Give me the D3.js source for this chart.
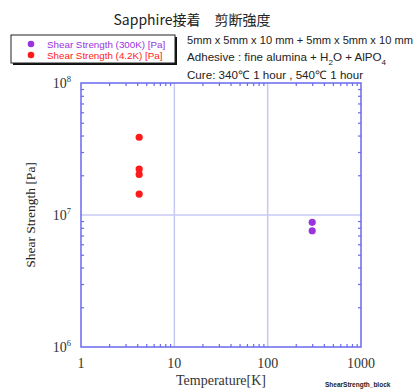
<!DOCTYPE html>
<html>
<head>
<meta charset="utf-8">
<script src="https://cdn.jsdelivr.net/npm/d3@7"></script>
<style>
  body { margin: 0; background: #fff; }
  svg { display: block; }
</style>
</head>
<body>
<svg id="chart"></svg>
<script>
// data
var temp300 = [300, 300];
var shear300 = [8.8e6, 7.6e6];
var temp4 = [4.2, 4.2, 4.2, 4.2];
var shear4 = [3.88e7, 2.23e7, 2.03e7, 1.44e7];
var xTickLabels = ["1", "10", "100", "1000"];
var yTickValues = [1e6, 1e7, 1e8];
var seriesNames = ["Shear Strength (300K) [Pa]", "Shear Strength (4.2K) [Pa]"];
var seriesColors = ["#9933dd", "#ff1a1a"];

var W = 417, H = 390;
var margin = { top: 83, right: 56, bottom: 43, left: 81 };
var width = W - margin.left - margin.right;
var height = H - margin.top - margin.bottom;

var svg = d3.select("#chart").attr("width", W).attr("height", H);

var axisColor = "#6a6aee";
var gridColor = "#c8c8f4";
var serif = "'Liberation Serif', 'DejaVu Serif', serif";
var sans = "'Liberation Sans', Arial, sans-serif";

var x = d3.scaleLog().domain([1, 1000]).range([0, width]);
var y = d3.scaleLog().domain([1e6, 1e8]).range([height, 0]);

var g = svg.append("g").attr("transform", "translate(" + margin.left + "," + margin.top + ")");

// grid at decades
g.selectAll(".vgrid").data([10, 100]).enter().append("line")
  .attr("x1", d => x(d)).attr("x2", d => x(d))
  .attr("y1", 0).attr("y2", height)
  .attr("stroke", gridColor).attr("stroke-width", 1.5);
g.selectAll(".hgrid").data([1e7]).enter().append("line")
  .attr("x1", 0).attr("x2", width)
  .attr("y1", d => y(d)).attr("y2", d => y(d))
  .attr("stroke", gridColor).attr("stroke-width", 1.5);

// minor ticks (inside)
var xMinor = [];
[1, 10, 100].forEach(function (dec) { for (var k = 2; k <= 9; k++) xMinor.push(dec * k); });
var yMinor = [];
[1e6, 1e7].forEach(function (dec) { for (var k = 2; k <= 9; k++) yMinor.push(dec * k); });

function tickAxis(axis, vals) {
  return axis.tickValues(vals).tickSize(-3).tickFormat("");
}
var ax1 = g.append("g").attr("transform", "translate(0," + height + ")").call(tickAxis(d3.axisBottom(x), xMinor));
var ax2 = g.append("g").call(tickAxis(d3.axisTop(x), xMinor));
var ax3 = g.append("g").call(tickAxis(d3.axisLeft(y), yMinor));
var ax4 = g.append("g").attr("transform", "translate(" + width + ",0)").call(tickAxis(d3.axisRight(y), yMinor));
[ax1, ax2, ax3, ax4].forEach(function (a) {
  a.select(".domain").remove();
  a.selectAll("line").attr("stroke", axisColor).attr("stroke-width", 1.2);
});

// frame
g.append("rect").attr("width", width).attr("height", height)
  .attr("fill", "none").attr("stroke", axisColor).attr("stroke-width", 1.5);

// tick labels
g.selectAll(".xl").data(xTickLabels).enter().append("text")
  .attr("x", d => x(+d)).attr("y", height + 21)
  .attr("text-anchor", "middle").attr("font-family", serif).attr("font-size", 14)
  .attr("fill", "#333").text(d => d);

var yl = g.selectAll(".yl").data(yTickValues).enter().append("text")
  .attr("x", -10).attr("y", d => y(d) + 5)
  .attr("text-anchor", "end").attr("font-family", serif).attr("font-size", 14).attr("fill", "#333");
yl.append("tspan").text("10");
yl.append("tspan").attr("dy", -6).attr("font-size", 8.5).text(d => Math.round(Math.log10(d)));

// axis titles
svg.append("text").attr("x", margin.left + width / 2).attr("y", 385)
  .attr("text-anchor", "middle").attr("font-family", serif).attr("font-size", 14)
  .attr("fill", "#333").text("Temperature[K]");
svg.append("text").attr("transform", "translate(35," + (margin.top + height / 2) + ") rotate(-90)")
  .attr("text-anchor", "middle").attr("font-family", serif).attr("font-size", 13.5)
  .attr("fill", "#222").text("Shear Strength [Pa]");

// points
var pts300 = temp300.map((t, i) => [t, shear300[i]]);
var pts4 = temp4.map((t, i) => [t, shear4[i]]);
g.selectAll(".p300").data(pts300).enter().append("circle")
  .attr("cx", d => x(d[0])).attr("cy", d => y(d[1])).attr("r", 3.6)
  .attr("fill", seriesColors[0]);
g.selectAll(".p4").data(pts4).enter().append("circle")
  .attr("cx", d => x(d[0])).attr("cy", d => y(d[1])).attr("r", 3.6)
  .attr("fill", seriesColors[1]);

// title
svg.append("text").attr("x", 192).attr("y", 25).attr("text-anchor", "middle")
  .attr("font-family", "'Noto Sans CJK JP', sans-serif").attr("font-size", 14)
  .attr("fill", "#222").text("Sapphire接着　剪断強度");

// notes
var notes = svg.append("g").attr("font-family", sans).attr("font-size", 11.6).attr("fill", "#222");
notes.append("text").attr("x", 187).attr("y", 44).attr("font-size", 11.1)
  .text("5mm x 5mm x 10 mm + 5mm x 5mm x 10 mm");
var n2 = notes.append("text").attr("x", 187).attr("y", 61);
n2.append("tspan").text("Adhesive : fine alumina + H");
n2.append("tspan").attr("dy", 4).attr("font-size", 8).text("2");
n2.append("tspan").attr("dy", -4).text("O + AlPO");
n2.append("tspan").attr("dy", 4).attr("font-size", 8).text("4");
notes.append("text").attr("x", 187).attr("y", 79).text("Cure: 340\u2103 1 hour , 540\u2103 1 hour");

// legend
var lg = svg.append("g").attr("transform", "translate(11,35)");
lg.append("rect").attr("x", 2).attr("y", 2).attr("width", 164).attr("height", 28).attr("fill", "#111");
lg.append("rect").attr("width", 164).attr("height", 28).attr("fill", "#fff")
  .attr("stroke", "#222").attr("stroke-width", 1);
seriesNames.forEach(function (name, i) {
  lg.append("circle").attr("cx", 20).attr("cy", 9 + i * 11).attr("r", 3.3).attr("fill", seriesColors[i]);
  lg.append("text").attr("x", 36).attr("y", 13 + i * 11).attr("font-family", sans)
    .attr("font-size", 9.8).attr("fill", seriesColors[i]).text(name);
});

// footer
svg.append("text").attr("x", 325).attr("y", 387).attr("font-family", sans)
  .attr("font-size", 6.5).attr("font-weight", "bold").attr("fill", "#222").text("ShearStrength_block");
</script>
</body>
</html>
